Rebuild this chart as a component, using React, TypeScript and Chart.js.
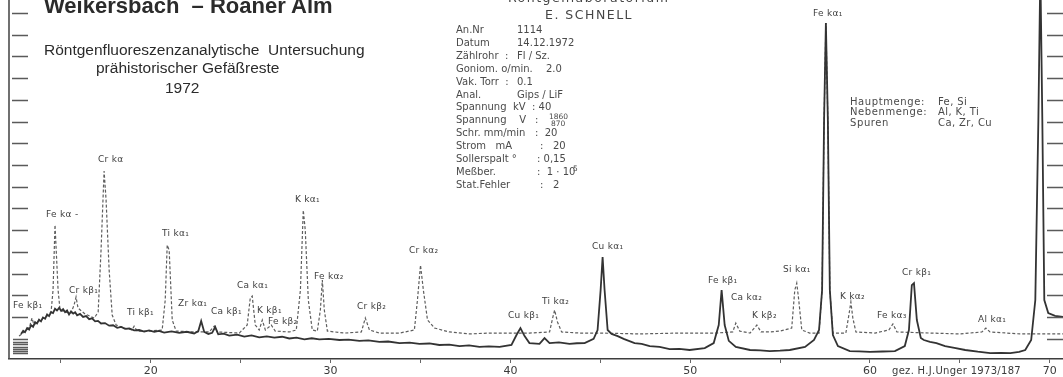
import React, { useEffect, useRef } from 'react';
import { Chart, registerables } from 'chart.js';

Chart.register(...registerables);

// 2θ (degrees) and recorder deflection (in scale divisions) — LiF crystal trace (solid)
const solidAngle = [
  12.78, 12.9, 13.0, 13.12, 13.23, 13.34, 13.45, 13.56, 13.67, 13.78, 13.89, 14.0, 14.12, 14.23, 14.34,
  14.45, 14.56, 14.67, 14.78, 14.9, 15.01, 15.12, 15.23, 15.34, 15.45, 15.56, 15.68, 15.79, 15.9, 16.06,
  16.23, 16.4, 16.57, 16.73, 16.9, 17.06, 17.23, 17.45, 17.68, 17.9, 18.13, 18.35, 18.57, 18.8, 19.07,
  19.35, 19.63, 19.9, 20.19, 20.45, 20.74, 21.15, 21.58, 22.0, 22.41, 22.64, 22.8, 22.97, 23.2, 23.41,
  23.58, 23.75, 24.05, 24.36, 24.8, 25.2, 25.6, 26.03, 26.45, 26.87, 27.3, 27.7, 28.1, 28.54, 28.95,
  29.37, 29.9, 30.49, 31.0, 31.6, 32.1, 32.71, 33.2, 33.83, 34.4, 34.94, 35.5, 36.05, 36.6, 37.17,
  37.7, 38.28, 38.8, 39.4, 40.06, 40.34, 40.56, 40.79, 41.06, 41.62, 41.9, 42.18, 42.7, 43.29, 43.7,
  44.13, 44.63, 44.85, 45.02, 45.13, 45.24, 45.41, 45.63, 45.97, 46.3, 46.91, 47.3, 47.75, 48.3, 48.86,
  49.4, 49.97, 50.81, 51.31, 51.59, 51.75, 51.92, 52.15, 52.54, 53.33, 53.9, 54.43, 55.0, 55.54, 56.39,
  56.89, 57.17, 57.34, 57.45, 57.55, 57.66, 57.77, 57.94, 58.22, 58.88, 59.4, 60.0, 60.7, 61.39, 61.94,
  62.17, 62.33, 62.45, 62.61, 62.83, 63.0, 63.34, 63.7, 64.18, 64.7, 65.3, 66.0, 66.69, 67.3, 67.81,
  68.3, 68.64, 68.97, 69.2, 69.37, 69.48, 69.59, 69.7, 69.92, 70.3, 70.74,
];
const solidCounts = [
  0.22, 0.36, 0.3, 0.49, 0.42, 0.62, 0.55, 0.76, 0.7, 0.88, 0.8, 0.98, 0.92, 1.12, 1.04,
  1.22, 1.18, 1.38, 1.3, 1.42, 1.28, 1.36, 1.22, 1.3, 1.12, 1.26, 1.16, 1.22, 1.08, 1.14,
  1.0, 1.04, 0.9, 0.94, 0.8, 0.82, 0.7, 0.72, 0.6, 0.62, 0.5, 0.54, 0.45, 0.47, 0.38,
  0.4, 0.33, 0.38, 0.32, 0.36, 0.28, 0.34, 0.27, 0.32, 0.24, 0.35, 0.81, 0.31, 0.22, 0.27,
  0.54, 0.2, 0.23, 0.14, 0.19, 0.1, 0.15, 0.06, 0.11, 0.05, 0.09, 0.01, 0.05, -0.03, 0.02,
  -0.03, -0.01, -0.06, -0.04, -0.1, -0.08, -0.15, -0.13, -0.2, -0.18, -0.24, -0.22, -0.29, -0.27, -0.34,
  -0.31, -0.38, -0.35, -0.38, -0.29, 0.17, 0.49, 0.12, -0.2, -0.24, 0.03, -0.2, -0.17, -0.24, -0.21,
  -0.2, -0.01, 0.4, 2.24, 3.76, 2.24, 0.4, 0.22, 0.12, -0.01, -0.2, -0.24, -0.34, -0.38, -0.48,
  -0.47, -0.52, -0.43, -0.2, 0.63, 2.24, 0.63, -0.1, -0.38, -0.52, -0.54, -0.57, -0.55, -0.52, -0.38,
  -0.06, 0.4, 2.24, 10.07, 14.54, 10.07, 2.24, 0.17, -0.34, -0.57, -0.58, -0.61, -0.59, -0.57, -0.34,
  0.4, 2.47, 2.56, 0.86, 0.03, -0.06, -0.15, -0.2, -0.34, -0.42, -0.52, -0.6, -0.66, -0.65, -0.66,
  -0.61, -0.52, -0.06, 1.78, 10.07, 16.98, 10.07, 1.78, 1.18, 1.05, 1.0,
];

// Gips crystal trace (dashed)
const dashedAngle = [
  12.67, 13.11, 13.28, 13.39, 13.5, 13.78, 14.23, 14.45, 14.56, 14.67, 14.84, 14.95, 15.23, 15.56, 15.73,
  15.84, 15.95, 16.34, 16.85, 17.07, 17.23, 17.4, 17.51, 17.68, 17.85, 18.07, 18.52, 18.96, 19.07, 19.24,
  19.91, 20.63, 20.8, 20.91, 21.02, 21.19, 21.41, 22.41, 23.25, 23.53, 23.69, 24.92, 25.36, 25.53, 25.64,
  25.81, 26.03, 26.2, 26.37, 26.7, 26.92, 27.7, 28.09, 28.32, 28.48, 28.59, 28.76, 28.98, 29.26, 29.43,
  29.54, 29.65, 29.82, 30.76, 31.71, 31.93, 32.16, 32.71, 33.83, 34.66, 34.83, 35.0, 35.16, 35.39, 35.78,
  36.61, 37.73, 38.84, 40.23, 41.06, 42.18, 42.35, 42.46, 42.62, 42.85, 43.85, 44.96, 47.19, 49.42, 51.37,
  52.37, 52.54, 52.76, 53.33, 53.71, 53.94, 54.43, 54.98, 55.65, 55.82, 55.93, 56.04, 56.21, 56.65, 57.17,
  57.34, 57.45, 57.55, 57.66, 57.77, 57.94, 58.66, 58.83, 58.94, 59.05, 59.22, 60.28, 61.05, 61.28, 61.5,
  63.34, 65.01, 66.23, 66.45, 66.68, 68.35, 70.74,
];
const dashedCounts = [
  0.12, 0.4, 0.63, 0.95, 0.63, 0.82, 1.04, 1.23, 2.24, 5.24, 2.24, 1.32, 1.23, 1.18, 1.55,
  1.92, 1.41, 1.14, 0.95, 1.23, 4.08, 7.72, 6.39, 3.17, 1.09, 0.63, 0.49, 0.4, 0.58, 0.35,
  0.35, 0.4, 1.78, 4.31, 4.08, 0.86, 0.35, 0.31, 0.31, 0.58, 0.31, 0.26, 0.63, 1.87, 1.96,
  0.63, 0.4, 0.86, 0.4, 0.63, 0.35, 0.31, 0.4, 2.24, 5.92, 5.0, 1.78, 0.4, 0.35, 1.32,
  2.7, 1.32, 0.35, 0.26, 0.31, 0.95, 0.4, 0.26, 0.26, 0.4, 1.78, 3.39, 2.24, 0.86, 0.49,
  0.31, 0.22, 0.26, 0.26, 0.26, 0.31, 0.95, 1.32, 0.77, 0.31, 0.26, 0.26, 0.22, 0.26, 0.26,
  0.31, 0.72, 0.35, 0.26, 0.63, 0.31, 0.31, 0.35, 0.49, 2.24, 2.56, 1.78, 0.4, 0.26, 0.26,
  2.24, 10.07, 14.54, 10.07, 2.24, 0.26, 0.26, 1.09, 1.69, 0.95, 0.31, 0.26, 0.4, 0.68, 0.31,
  0.26, 0.22, 0.31, 0.49, 0.31, 0.22, 0.22,
];

const xTickLabels = ['20', '30', '40', '50', '60', '70'];
const yDivisions = [1, 2, 3, 4, 5, 6, 7, 8, 9, 10, 11, 12, 13, 14, 15];
const yFineDivisions = [0, -0.14, -0.26, -0.37, -0.47, -0.57, -0.67];
const rightDivisions = [0, 1, 2, 3, 4, 5, 6, 7, 8, 9, 10, 11, 12, 13, 14, 15];

const peakLabels = [
  'Fe kβ₁', 'Fe kα -', 'Cr kβ₁', 'Cr kα', 'Ti kβ₁', 'Ti kα₁', 'Zr kα₁', 'Ca kβ₁', 'Ca kα₁', 'K kβ₁',
  'Fe kβ₂', 'K kα₁', 'Fe kα₂', 'Cr kβ₂', 'Cr kα₂', 'Cu kβ₁', 'Ti kα₂', 'Cu kα₁', 'Fe kβ₁', 'Ca kα₂',
  'K kβ₂', 'Si kα₁', 'Fe kα₁', 'K kα₂', 'Fe kα₃', 'Cr kβ₁', 'Al kα₁', 'Cr kα',
];
const peakLabelPos: [number, number][] = [
  [13, 309], [46, 218], [69, 294], [98, 163], [127, 316], [162, 237], [178, 307], [211, 315], [237, 289], [257, 314],
  [268, 325], [295, 203], [314, 280], [357, 310], [409, 254], [508, 319], [542, 305], [592, 250], [708, 284], [731, 301],
  [752, 319], [783, 273], [813, 17], [840, 300], [877, 319], [902, 276], [978, 323], [1016, 1],
];

const protocolKeys = [
  'An.Nr', 'Datum', 'Zählrohr  :', 'Goniom. o/min.', 'Vak. Torr  :', 'Anal.', 'Spannung  kV', 'Spannung    V',
  'Schr. mm/min', 'Strom   mA', 'Sollerspalt °', 'Meßber.', 'Stat.Fehler',
];
const protocolValues = [
  '1114', '14.12.1972', 'Fl / Sz.', '2.0', '0.1', 'Gips / LiF', ': 40', ':', ':  20', ':   20', ': 0,15', ':  1 · 10', ':   2',
];
const protocolValueX = [517, 517, 517, 546, 517, 517, 532, 535, 535, 540, 537, 537, 540];

const compositionKeys = ['Hauptmenge:', 'Nebenmenge:', 'Spuren'];
const compositionValues = ['Fe, Si', 'Al, K, Ti', 'Ca, Zr, Cu'];

const DJ = '"DejaVu Sans", sans-serif';
const LIB = '"Liberation Sans", Arial, sans-serif';

function T(props: {
  x: number; b: number; s: number; f?: string; w?: number | string; c?: string; ls?: number; children: React.ReactNode;
}) {
  const { x, b, s, f = DJ, w = 'normal', c = '#4a4a4a', ls = 0, children } = props;
  return (
    <div
      style={{
        position: 'absolute', left: x, top: b - 0.846 * s, fontSize: s, lineHeight: 1, fontFamily: f,
        fontWeight: w as any, color: c, whiteSpace: 'pre', letterSpacing: ls,
      }}
    >
      {children}
    </div>
  );
}

const framePlugin = {
  id: 'recorderFrame',
  afterDraw(chart: any) {
    const { ctx, chartArea, scales } = chart;
    const y = scales.y;
    ctx.save();
    ctx.strokeStyle = '#4d4d4d';
    ctx.lineWidth = 1.6;
    ctx.beginPath();
    ctx.moveTo(chartArea.left, 0);
    ctx.lineTo(chartArea.left, chartArea.bottom);
    ctx.stroke();
    ctx.lineWidth = 1.3;
    ctx.strokeStyle = '#5a5a5a';
    ctx.beginPath();
    for (const v of yDivisions) {
      const py = Math.round(y.getPixelForValue(v)) + 0.5;
      ctx.moveTo(chartArea.left + 3, py);
      ctx.lineTo(chartArea.left + 19, py);
    }
    for (const v of yFineDivisions) {
      const py = Math.round(y.getPixelForValue(v)) + 0.5;
      ctx.moveTo(chartArea.left + 4, py);
      ctx.lineTo(chartArea.left + 19, py);
    }
    for (const v of rightDivisions) {
      const py = Math.round(y.getPixelForValue(v)) + 0.5;
      ctx.moveTo(chartArea.right - 16, py);
      ctx.lineTo(chartArea.right, py);
    }
    ctx.stroke();
    ctx.restore();
  },
};

export default function App() {
  const ref = useRef<HTMLCanvasElement>(null);
  useEffect(() => {
    const solid = solidAngle.map((a, i) => ({ x: a, y: solidCounts[i] }));
    const dashed = dashedAngle.map((a, i) => ({ x: a, y: dashedCounts[i] }));
    const chart = new Chart(ref.current as HTMLCanvasElement, {
      type: 'line',
      data: {
        datasets: [
          {
            label: 'LiF', data: solid, borderColor: '#333333', borderWidth: 1.8, pointRadius: 0, tension: 0,
            fill: false,
          },
          {
            label: 'Gips', data: dashed, borderColor: '#5e5e5e', borderWidth: 1.2, pointRadius: 0, tension: 0,
            borderDash: [3, 2], fill: false,
          },
        ],
      },
      options: {
        animation: false,
        responsive: false,
        layout: { padding: { left: 9, right: 0, top: 0, bottom: 0 } },
        plugins: { legend: { display: false }, tooltip: { enabled: false } },
        scales: {
          x: {
            type: 'linear',
            min: 12.11,
            max: 70.74,
            afterFit: (s: any) => { s.height = 18; },
            ticks: {
              stepSize: 5,
              includeBounds: false,
              autoSkip: false,
              maxRotation: 0,
              padding: 2,
              color: '#3a3a3a',
              font: { family: 'DejaVu Sans', size: 11 },
              callback: (v: any) => (xTickLabels.includes(String(v)) ? String(v) : ''),
            },
            grid: { drawOnChartArea: false, drawTicks: true, tickLength: 4, color: '#666' },
            border: { display: true, color: '#3d3d3d', width: 1.5 },
          },
          y: { type: 'linear', display: false, min: -0.935, max: 15.6 },
        },
      },
      plugins: [framePlugin],
    });
    return () => chart.destroy();
  }, []);

  const rowBase = (i: number) => 33.5 + 12.9 * i;

  return (
    <div style={{ position: 'fixed', left: 0, top: 0, width: 1063, height: 377, background: '#fff', overflow: 'hidden' }}>
      <canvas ref={ref} width={1063} height={377} style={{ position: 'absolute', left: 0, top: 0 }} />
      <T x={44} b={14} s={22} f={LIB} w="bold" c="#2b2b2b">Weikersbach  – Roaner Alm</T>
      <T x={44} b={55} s={15.5} f={LIB} c="#2b2b2b">Röntgenfluoreszenzanalytische  Untersuchung</T>
      <T x={96} b={73} s={15.5} f={LIB} c="#2b2b2b">prähistorischer Gefäßreste</T>
      <T x={165} b={93} s={15.5} f={LIB} c="#2b2b2b">1972</T>
      <T x={508} b={3} s={12.5} ls={1.5} c="#444">Röntgenlaboratorium</T>
      <T x={545} b={20} s={12.5} ls={1.5} c="#444">E. SCHNELL</T>
      {protocolKeys.map((k, i) => (
        <T key={'k' + i} x={456} b={rowBase(i)} s={10}>{k}</T>
      ))}
      {protocolValues.map((v, i) => (
        <T key={'v' + i} x={protocolValueX[i]} b={rowBase(i)} s={10}>{v}</T>
      ))}
      <T x={549} b={rowBase(7) - 4} s={7.5}>1860</T>
      <T x={551} b={rowBase(7) + 3} s={7.5}>870</T>
      <T x={573} b={rowBase(11) - 4} s={7.5}>5</T>
      {compositionKeys.map((k, i) => (
        <T key={'ck' + i} x={850} b={105 + 10.5 * i} s={10} ls={0.6}>{k}</T>
      ))}
      {compositionValues.map((v, i) => (
        <T key={'cv' + i} x={938} b={105 + 10.5 * i} s={10} ls={0.4}>{v}</T>
      ))}
      {peakLabels.map((t, i) => (
        <T key={'p' + i} x={peakLabelPos[i][0]} b={peakLabelPos[i][1]} s={9} ls={0.3} c="#404040">{t}</T>
      ))}
      <T x={892} b={374} s={10} ls={0.3} c="#3a3a3a">gez. H.J.Unger 1973/187</T>
    </div>
  );
}
